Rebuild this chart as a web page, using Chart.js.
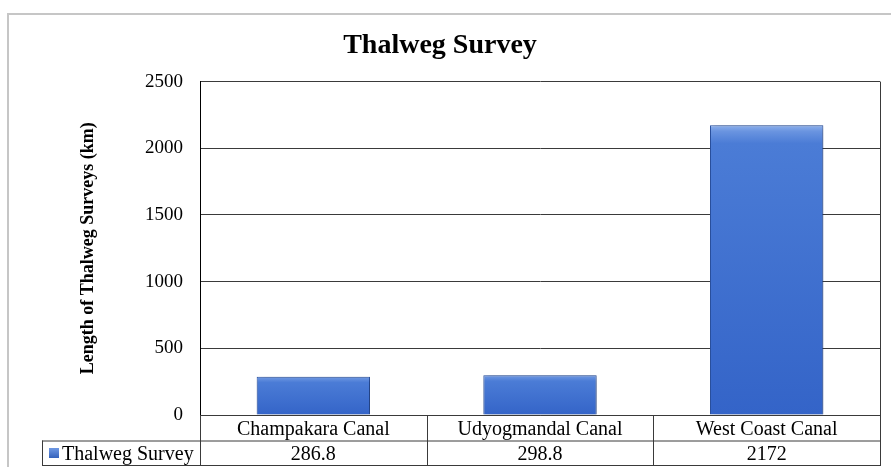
<!DOCTYPE html>
<html lang="en">
<head>
    <meta charset="UTF-8">
    <title>Thalweg Survey</title>
    <script src="https://cdn.jsdelivr.net/npm/chart.js"></script>
    <style>
        html, body { margin: 0; padding: 0; background: #fff; }
        #wrap { width: 891px; height: 467px; }
    </style>
</head>
<body>
    <div id="wrap"><canvas id="surveyChart" width="891" height="467"></canvas></div>

    <script>
        // chart data
        const canals = ['Champakara Canal', 'Udyogmandal Canal', 'West Coast Canal'];
        const surveyLength = [286.8, 298.8, 2172];
        const seriesName = 'Thalweg Survey';
        const yTicks = [0, 500, 1000, 1500, 2000, 2500];

        const serif = '"Liberation Serif", "Times New Roman", serif';
        const lineColor = '#3a3a3a';

        // gradient for each bar, from its top to the baseline
        function barFill(context) {
            const chart = context.chart;
            const y = chart.scales.y;
            if (!chart.chartArea || !y || context.raw == null) return '#3d6fd2';
            const top = y.getPixelForValue(context.raw);
            const base = y.getPixelForValue(0);
            const h = Math.max(base - top, 1);
            const g = chart.ctx.createLinearGradient(0, top, 0, base);
            g.addColorStop(0, '#8db0ec');
            g.addColorStop(Math.min(0.03, 6 / h), '#6a94e0');
            g.addColorStop(Math.min(0.15, 18 / h), '#4b7cd6');
            g.addColorStop(1, '#3464c8');
            return g;
        }

        // frame, data table and bar shadow
        const tablePlugin = {
            id: 'dataTable',
            beforeDraw(chart) {
                const ctx = chart.ctx;
                ctx.save();
                ctx.strokeStyle = '#c6c6c6';
                ctx.lineWidth = 2;
                ctx.beginPath();
                ctx.moveTo(8, 467);
                ctx.lineTo(8, 14);
                ctx.lineTo(891, 14);
                ctx.stroke();
                ctx.restore();
            },
            beforeDatasetsDraw(chart) {
                const ctx = chart.ctx;
                ctx.save();
                ctx.shadowColor = 'rgba(0,0,0,0.35)';
                ctx.shadowBlur = 7;
                ctx.shadowOffsetX = 2;
                ctx.shadowOffsetY = 1;
            },
            afterDatasetsDraw(chart) {
                chart.ctx.restore();
            },
            afterDraw(chart) {
                const ctx = chart.ctx;
                const area = chart.chartArea;
                const x = chart.scales.x;
                const rowH = 25.5;
                const row1 = area.bottom;
                const row2 = row1 + rowH;
                const row3 = row2 + rowH;
                const legendLeft = 42;
                const step = (area.right - area.left) / canals.length;

                ctx.save();
                ctx.strokeStyle = lineColor;
                ctx.lineWidth = 1;
                ctx.beginPath();
                // right border of the plot
                ctx.moveTo(area.right + 0.5, area.top);
                ctx.lineTo(area.right + 0.5, row3);
                // table rows
                ctx.moveTo(legendLeft, row2 + 0.5);
                ctx.lineTo(area.right, row2 + 0.5);
                ctx.moveTo(legendLeft, row3 - 0.5);
                ctx.lineTo(area.right, row3 - 0.5);
                ctx.moveTo(legendLeft + 0.5, row2);
                ctx.lineTo(legendLeft + 0.5, row3);
                // column separators
                for (let i = 0; i < canals.length; i++) {
                    const cx = Math.round(area.left + step * i) + 0.5;
                    ctx.moveTo(cx, row1);
                    ctx.lineTo(cx, row3);
                }
                ctx.stroke();

                // legend key
                const sw = ctx.createLinearGradient(0, 449, 0, 459);
                sw.addColorStop(0, '#6a94e0');
                sw.addColorStop(1, '#2f5db8');
                ctx.fillStyle = sw;
                ctx.fillRect(49, 448, 10, 10);
                ctx.fillStyle = '#000';
                ctx.font = '20px ' + serif;
                ctx.textBaseline = 'middle';
                ctx.textAlign = 'left';
                ctx.fillText(seriesName, 62, row2 + rowH / 2 + 1);

                // values row
                ctx.textAlign = 'center';
                surveyLength.forEach((v, i) => {
                    ctx.fillText(String(v), x.getPixelForValue(i), row2 + rowH / 2 + 1);
                });
                ctx.restore();
            }
        };

        const ctx = document.getElementById('surveyChart').getContext('2d');
        const surveyChart = new Chart(ctx, {
            type: 'bar',
            data: {
                labels: canals,
                datasets: [{
                    label: seriesName,
                    data: surveyLength,
                    backgroundColor: barFill,
                    borderColor: '#2c55a8',
                    borderWidth: 1,
                    categoryPercentage: 1,
                    barPercentage: 0.5
                }]
            },
            options: {
                responsive: false,
                animation: false,
                layout: { padding: { right: 11, left: 0, top: 0, bottom: 0 } },
                plugins: {
                    legend: { display: false },
                    tooltip: { enabled: false },
                    title: {
                        display: true,
                        text: 'Thalweg Survey',
                        color: '#000',
                        font: { family: serif, size: 28, weight: 'bold' },
                        padding: { top: 29, bottom: 19 }
                    }
                },
                scales: {
                    x: {
                        grid: { display: false, drawTicks: false },
                        border: { display: true, color: lineColor },
                        ticks: {
                            color: '#000',
                            padding: 3,
                            font: { family: serif, size: 20 }
                        },
                        afterFit(scale) { scale.height = 52; }
                    },
                    y: {
                        min: 0,
                        max: 2500,
                        afterBuildTicks(scale) {
                            scale.ticks = yTicks.map(v => ({ value: v }));
                        },
                        grid: { color: lineColor, drawTicks: false },
                        border: { display: true, color: '#000' },
                        ticks: {
                            color: '#000',
                            padding: 17,
                            font: { family: serif, size: 19 },
                            callback: v => String(v)
                        },
                        title: {
                            display: true,
                            text: 'Length of Thalweg Surveys (km)',
                            color: '#000',
                            font: { family: serif, size: 18, weight: 'bold' },
                            padding: { top: 78, bottom: 0 }
                        },
                        afterFit(scale) { scale.width = 200; }
                    }
                }
            },
            plugins: [tablePlugin]
        });
    </script>
</body>
</html>
